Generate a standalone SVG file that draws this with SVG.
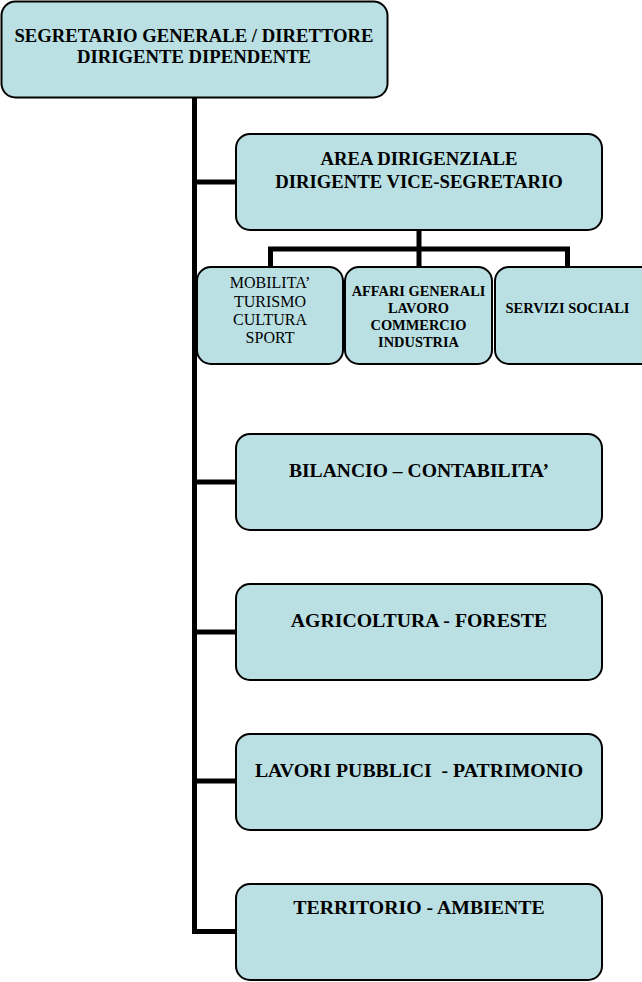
<svg xmlns="http://www.w3.org/2000/svg" width="642" height="982" viewBox="0 0 642 982">
<style>
.box{fill:#bae0e4;stroke:#000;stroke-width:2}
.t{font-family:"Liberation Serif","Times New Roman",serif;font-weight:bold;fill:#000;text-anchor:middle;white-space:pre}
.r{font-weight:normal}
.c{fill:none;stroke:#000;stroke-width:5;stroke-linecap:butt;stroke-linejoin:miter}
</style>
<rect width="642" height="982" fill="#fff"/>
<g id="connectors">
<path class="c" d="M194.5 97V931.5H236"/>
<path class="c" d="M194.5 182H236"/>
<path class="c" d="M194.5 482H236"/>
<path class="c" d="M194.5 632H236"/>
<path class="c" d="M194.5 781H236"/>
<path class="c" d="M419 230V266"/>
<path class="c" d="M270.5 267V249H567.5V267"/>
</g>
<g id="n-segretario">
<rect class="box" x="1.5" y="1.5" width="386" height="96" rx="14"/>
<text class="t" x="194" y="42" font-size="18.7">SEGRETARIO GENERALE / DIRETTORE</text>
<text class="t" x="194" y="63" font-size="18.7">DIRIGENTE DIPENDENTE</text>
</g>
<g id="n-area">
<rect class="box" x="236" y="134" width="366" height="96" rx="14"/>
<text class="t" x="419" y="164.5" font-size="18.7">AREA DIRIGENZIALE</text>
<text class="t" x="419" y="187.5" font-size="18.7">DIRIGENTE VICE-SEGRETARIO</text>
</g>
<g id="n-mobilita">
<rect class="box" x="197" y="267" width="146" height="97" rx="14"/>
<text class="t r" x="270" y="288" font-size="16">MOBILITA’</text>
<text class="t r" x="270" y="306.5" font-size="16">TURISMO</text>
<text class="t r" x="270" y="325" font-size="16">CULTURA</text>
<text class="t r" x="270" y="343" font-size="16">SPORT</text>
</g>
<g id="n-affari">
<rect class="box" x="345" y="267" width="147" height="97" rx="14"/>
<text class="t" x="418.5" y="296" font-size="14.4">AFFARI GENERALI</text>
<text class="t" x="418.5" y="313" font-size="14.4">LAVORO</text>
<text class="t" x="418.5" y="330" font-size="14.4">COMMERCIO</text>
<text class="t" x="418.5" y="347" font-size="14.4">INDUSTRIA</text>
</g>
<g id="n-servizi">
<rect class="box" x="495" y="267" width="160" height="97" rx="14"/>
<text class="t" x="567.5" y="313" font-size="14.5">SERVIZI SOCIALI</text>
</g>
<g id="n-bilancio">
<rect class="box" x="236" y="434" width="366" height="96" rx="14"/>
<text class="t" x="419" y="476.5" font-size="19.6">BILANCIO – CONTABILITA’</text>
</g>
<g id="n-agricoltura">
<rect class="box" x="236" y="584" width="366" height="96" rx="14"/>
<text class="t" x="419" y="626.5" font-size="19.8">AGRICOLTURA - FORESTE</text>
</g>
<g id="n-lavori">
<rect class="box" x="236" y="734" width="366" height="96" rx="14"/>
<text class="t" x="419" y="776.5" font-size="19.8">LAVORI PUBBLICI  - PATRIMONIO</text>
</g>
<g id="n-territorio">
<rect class="box" x="236" y="884" width="366" height="96" rx="14"/>
<text class="t" x="419" y="914" font-size="19.8">TERRITORIO - AMBIENTE</text>
</g>
</svg>
